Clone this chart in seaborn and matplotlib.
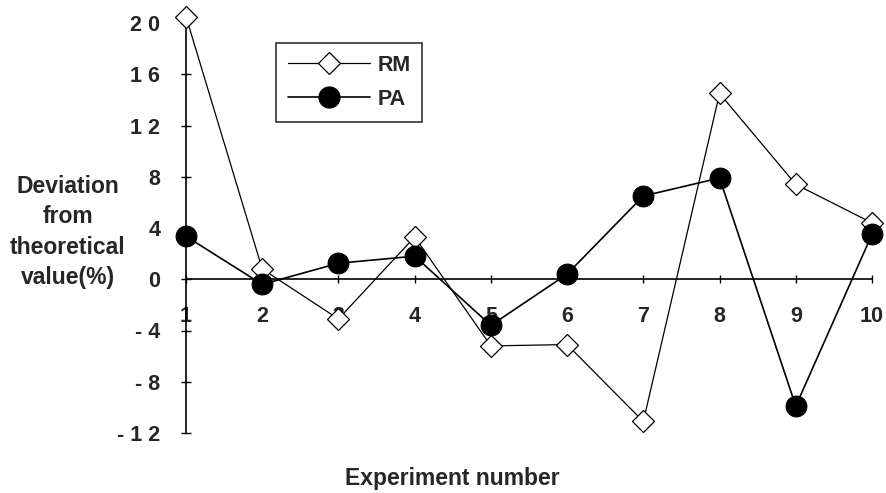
import matplotlib
matplotlib.use("Agg")
import matplotlib.pyplot as plt
import seaborn as sns
import pandas as pd
from matplotlib.lines import Line2D

sns.set_theme(style="white")
plt.rcParams['font.family'] = ['Liberation Sans', 'DejaVu Sans']

experiments = [1, 2, 3, 4, 5, 6, 7, 8, 9, 10]
rm_values = [20.5, 0.8, -3.1, 3.3, -5.2, -5.1, -11.1, 14.5, 7.4, 4.4]
pa_values = [3.35, -0.4, 1.25, 1.8, -3.6, 0.4, 6.5, 7.9, -9.9, 3.5]
y_ticks = [-12, -8, -4, 0, 4, 8, 12, 16, 20]
y_tick_labels = ["- 1 2", "- 8", "- 4", "0", "4", "8", "1 2", "1 6", "2 0"]
x_tick_labels = ["1", "2", "3", "4", "5", "6", "7", "8", "9", "10"]

df = pd.DataFrame({"exp": experiments, "RM": rm_values, "PA": pa_values})

fig = plt.figure(figsize=(8.87, 4.93), dpi=100)
ax = fig.add_axes([186/887, 1 - 433/493, (872 - 186)/887, (433 - 23)/493])

sns.lineplot(data=df, x="exp", y="RM", ax=ax, color="black", lw=0.9,
             marker="D", markersize=11, markerfacecolor="white",
             markeredgecolor="black", markeredgewidth=0.9, clip_on=False, zorder=3)
sns.lineplot(data=df, x="exp", y="PA", ax=ax, color="black", lw=1.2,
             marker="o", markersize=15, markerfacecolor="black",
             markeredgecolor="black", clip_on=False, zorder=4)

ax.set_xlim(1, 10)
ax.set_ylim(-12, 20)
ax.set_facecolor("white")
for s in ["top", "right"]:
    ax.spines[s].set_visible(False)
ax.spines["left"].set_color("black")
ax.spines["left"].set_linewidth(1.2)
ax.spines["bottom"].set_position(("data", 0))
ax.spines["bottom"].set_color("black")
ax.spines["bottom"].set_linewidth(1.2)

ax.set_xticks(experiments)
ax.set_xticklabels(x_tick_labels, fontsize=15.5, fontweight="bold")
ax.set_yticks(y_ticks)
ax.set_yticklabels(y_tick_labels, fontsize=15.5, fontweight="bold")
ax.tick_params(axis="x", direction="inout", length=6, width=1, color="black", pad=16)
ax.tick_params(axis="y", direction="inout", length=7, width=1, color="black", pad=15)
ax.tick_params(axis="x", bottom=True)
ax.tick_params(axis="y", left=True)
ax.set_xlabel("")
ax.set_ylabel("")
ax.grid(False)

fig.text(452/887, 1 - 478/493, "Experiment number", ha="center", va="center",
         fontsize=16.5, fontweight="bold")
fig.text(68/887, 1 - 232/493, "Deviation\nfrom\ntheoretical\nvalue(%)", ha="center",
         va="center", fontsize=16.5, fontweight="bold", linespacing=1.4)

handles = [
    Line2D([], [], color="black", lw=0.9, marker="D", markersize=11,
           markerfacecolor="white", markeredgecolor="black", markeredgewidth=0.9),
    Line2D([], [], color="black", lw=1.2, marker="o", markersize=15,
           markerfacecolor="black"),
]
leg = ax.legend(handles, ["RM", "PA"], loc="upper left",
                bbox_to_anchor=((276 - 186)/686, 1 - (43 - 23)/410),
                frameon=True, fancybox=False, edgecolor="black",
                prop={"weight": "bold", "size": 15.5}, handlelength=3.8,
                borderpad=0.55, labelspacing=0.6, handletextpad=0.35, borderaxespad=0)
leg.get_frame().set_linewidth(1.2)

fig.savefig("out.png", dpi=100, facecolor="white")
